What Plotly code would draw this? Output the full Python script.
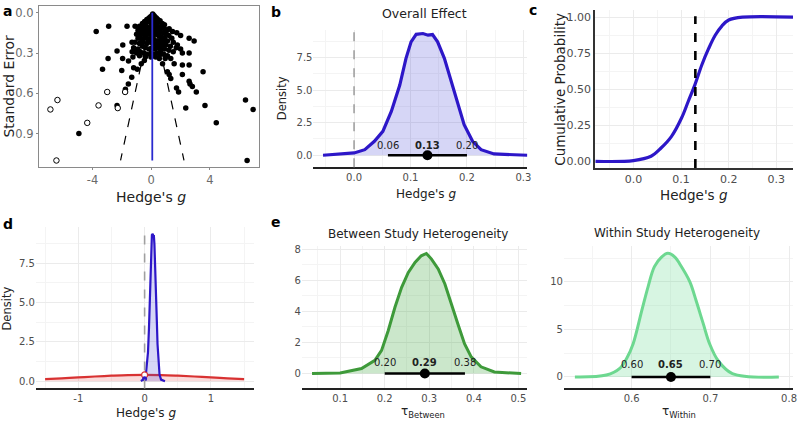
import plotly.graph_objects as go

W, H = 800, 422
FONT = "DejaVu Sans"

# ---------------- data ----------------
# (a) funnel plot: observed effects (filled) and imputed effects (hollow)
obs_g = [0.10, 0.05, 0.18, -0.05, 0.25, 0.12, -0.15, 0.35, 0.0, 0.2, -0.3, 0.45, -0.1, 0.3, 0.6,
         -0.45, 0.1, -0.25, 0.5, 0.75, -0.6, 0.0, 0.35, -0.4, 0.9,
         -0.8, -0.6, -0.4, -0.2, 0.05, 0.25, 0.45, 0.65, 0.9, 1.1,
         -0.9, -0.7, -0.5, -0.3, -0.1, 0.15, 0.4, 0.6, 0.8, 1.0, 1.2,
         -1.0, -0.75, -0.55, -0.35, -0.15, 0.1, 0.3, 0.5, 0.7, 0.9, 1.4,
         -0.9, -0.65, -0.45, -0.2, 0.0, 0.2, 0.45, 0.65, 0.85, 1.1, 1.5,
         -1.1, -0.8, -0.55, -0.3, -0.05, 0.15, 0.35, 0.55, 0.75, 1.0, 1.3, 1.7,
         -1.2, -0.9, -0.6, -0.4, -0.15, 0.05, 0.25, 0.45, 0.65, 0.9, 1.2, 1.5,
         -1.3, -1.0, -0.75, -0.5, -0.3, 0.0, 0.2, 0.4, 0.6, 0.85, 1.1,
         -0.8, -0.4, 0.3, 0.55, 0.95, -1.25,
         1.22, 1.45, 1.74, 2.0, 2.58, 2.92, 1.78, 2.0, 2.12, 2.58, 1.33, 0.77, 1.56, 2.12, 2.58,
         3.53, 1.1, 1.22, 1.33, 2.12, 2.58, 2.64, 2.8, 1.72, 1.86, 3.07, 2.35, 3.66, 4.43,
         6.42, 6.94, 6.53,
         -3.75, -2.9, -1.65, -1.1, -1.94, -2.33, -2.94, -1.95, -1.55, -3.32, -2.01, -1.2,
         -1.33, -1.56, -1.76, -0.95, -0.68, -0.47, -0.02, -1.31, -1.15, -2.33, -4.93]
obs_se = [0.01, 0.02, 0.02, 0.03, 0.03, 0.035, 0.04, 0.04, 0.045, 0.05, 0.05, 0.05, 0.06, 0.06, 0.06,
          0.065, 0.07, 0.07, 0.07, 0.08, 0.08, 0.08, 0.085, 0.09, 0.09,
          0.10, 0.11, 0.10, 0.11, 0.10, 0.11, 0.10, 0.11, 0.12, 0.13,
          0.13, 0.14, 0.13, 0.14, 0.13, 0.14, 0.13, 0.14, 0.15, 0.16, 0.17,
          0.16, 0.17, 0.16, 0.17, 0.16, 0.17, 0.16, 0.17, 0.18, 0.19, 0.19,
          0.19, 0.20, 0.19, 0.20, 0.19, 0.20, 0.21, 0.20, 0.22, 0.21, 0.22,
          0.22, 0.23, 0.22, 0.23, 0.22, 0.23, 0.24, 0.23, 0.25, 0.24, 0.25, 0.26,
          0.26, 0.27, 0.25, 0.26, 0.27, 0.26, 0.27, 0.26, 0.28, 0.27, 0.28, 0.29,
          0.29, 0.30, 0.29, 0.30, 0.31, 0.30, 0.31, 0.30, 0.31, 0.31, 0.32,
          0.32, 0.33, 0.33, 0.34, 0.34, 0.33,
          0.12, 0.14, 0.15, 0.17, 0.19, 0.21, 0.24, 0.27, 0.30, 0.30, 0.34, 0.38, 0.38, 0.39, 0.39,
          0.44, 0.44, 0.46, 0.49, 0.46, 0.51, 0.53, 0.55, 0.56, 0.59, 0.59, 0.71, 0.69, 0.82,
          0.65, 0.72, 1.10,
          0.14, 0.10, 0.10, 0.10, 0.24, 0.285, 0.34, 0.34, 0.36, 0.42, 0.43, 0.41,
          0.48, 0.53, 0.57, 0.42, 0.38, 0.355, 0.33, 0.22, 0.27, 0.69, 0.90]
imp_g = [-6.87, -6.39, -3.0, -3.59, -4.36, -6.46, -2.28, -1.78]
imp_se = [0.72, 0.65, 0.59, 0.69, 0.82, 1.10, 0.71, 0.59]
funnel_se = [0.0, 1.1]
funnel_left = [0.07, -2.09]
funnel_right = [0.07, 2.23]
adj_g = [0.07, 0.07]

# (b) posterior density of overall effect
mu_x = [-0.055, 0.0, 0.019, 0.036, 0.051, 0.066, 0.081, 0.092, 0.101, 0.11, 0.122, 0.131,
        0.139, 0.148, 0.16, 0.172, 0.184, 0.195, 0.21, 0.225, 0.248, 0.307]
mu_d = [0.0, 0.18, 0.43, 1.07, 1.84, 3.37, 5.4, 7.45, 8.72, 9.3, 9.36, 9.23,
        9.28, 8.72, 7.45, 5.66, 3.88, 2.35, 1.07, 0.43, 0.1, 0.0]
mu_ci = [0.06, 0.13, 0.20]

# (c) cumulative probability
cdf_x = [-0.08, 0.0, 0.037, 0.058, 0.08, 0.101, 0.115, 0.129, 0.1435, 0.158, 0.172, 0.186,
         0.2, 0.229, 0.335]
cdf_p = [0.0, 0.005, 0.035, 0.092, 0.173, 0.30, 0.415, 0.53, 0.668, 0.783, 0.876, 0.94,
         0.98, 1.0, 1.0]
cdf_mark = 0.13

# (d) prior vs posterior
prior_x = [-1.5, -1.25, -1.0, -0.75, -0.5, -0.25, 0.0, 0.25, 0.5, 0.75, 1.0, 1.25, 1.5]
prior_d = [0.13, 0.18, 0.24, 0.30, 0.35, 0.39, 0.40, 0.39, 0.35, 0.30, 0.24, 0.18, 0.13]
prior_at0 = 0.40
post_at0 = 0.15

# (e) heterogeneity
tb_x = [0.037, 0.1, 0.148, 0.178, 0.193, 0.208, 0.223, 0.238, 0.253, 0.268, 0.282, 0.2935,
        0.305, 0.32, 0.335, 0.349, 0.364, 0.379, 0.394, 0.416, 0.446, 0.506]
tb_d = [0.0, 0.04, 0.32, 0.85, 1.49, 2.77, 4.26, 5.54, 6.5, 7.14, 7.57, 7.72,
        7.36, 6.72, 5.76, 4.48, 3.2, 1.92, 1.07, 0.43, 0.1, 0.0]
tb_ci = [0.20, 0.29, 0.38]
tw_x = [0.528, 0.568, 0.585, 0.594, 0.602, 0.613, 0.621, 0.629, 0.638, 0.646, 0.655, 0.661,
        0.674, 0.682, 0.691, 0.699, 0.71, 0.728, 0.787]
tw_d = [0.0, 0.2, 0.9, 2.0, 3.5, 7.0, 9.5, 11.6, 12.6, 13.0, 12.6, 11.9,
        10.0, 8.0, 5.6, 3.5, 1.7, 0.35, 0.0]
tw_ci = [0.60, 0.65, 0.70]

BLUE = "#2D17C8"
BLUE_FILL = "rgba(70,70,215,0.22)"
RED = "#D83232"
RED_FILL = "rgba(230,90,90,0.22)"
GREEN = "#3E9A3A"
GREEN_FILL = "rgba(70,170,70,0.28)"
LGREEN = "#6DD890"
LGREEN_FILL = "rgba(110,220,150,0.28)"
GRID = "#EBEBEB"
MINOR = "#F4F4F4"
TICKC = "#4D4D4D"


def xd(a, b):
    return [a / W, b / W]


def yd(bottom, top):
    return [1 - bottom / H, 1 - top / H]


fig = go.Figure()

# ---- (a) ----
fig.add_trace(go.Scatter(x=funnel_left, y=funnel_se, mode="lines", xaxis="x", yaxis="y",
                         line=dict(color="black", width=1.2, dash="dash"), showlegend=False))
fig.add_trace(go.Scatter(x=funnel_right, y=funnel_se, mode="lines", xaxis="x", yaxis="y",
                         line=dict(color="black", width=1.2, dash="dash"), showlegend=False))
fig.add_trace(go.Scatter(x=obs_g, y=obs_se, mode="markers", xaxis="x", yaxis="y",
                         marker=dict(color="black", size=5.5), showlegend=False))
fig.add_trace(go.Scatter(x=imp_g, y=imp_se, mode="markers", xaxis="x", yaxis="y",
                         marker=dict(color="white", size=5.5, line=dict(color="black", width=1)),
                         showlegend=False))
fig.add_trace(go.Scatter(x=adj_g, y=funnel_se, mode="lines", xaxis="x", yaxis="y",
                         line=dict(color="#2A2ACF", width=1.8), showlegend=False))

# ---- (b) ----
fig.add_trace(go.Scatter(x=mu_x, y=mu_d, mode="lines", xaxis="x2", yaxis="y2", fill="tozeroy",
                         fillcolor=BLUE_FILL, line=dict(color=BLUE, width=3.2), showlegend=False))
# ---- (c) ----
fig.add_trace(go.Scatter(x=cdf_x, y=cdf_p, mode="lines", xaxis="x3", yaxis="y3",
                         line=dict(color=BLUE, width=3.2, shape="spline"), showlegend=False))
# ---- (d) ----
fig.add_trace(go.Scatter(x=prior_x, y=prior_d, mode="lines", xaxis="x4", yaxis="y4", fill="tozeroy",
                         fillcolor=RED_FILL, line=dict(color=RED, width=2.2, shape="spline"),
                         showlegend=False))
fig.add_trace(go.Scatter(x=mu_x, y=mu_d, mode="lines", xaxis="x4", yaxis="y4", fill="tozeroy",
                         fillcolor=BLUE_FILL, line=dict(color=BLUE, width=2.2), showlegend=False))
fig.add_trace(go.Scatter(x=[0], y=[prior_at0], mode="markers", xaxis="x4", yaxis="y4",
                         marker=dict(color="white", size=6, line=dict(color=RED, width=1.2)),
                         showlegend=False))
fig.add_trace(go.Scatter(x=[0], y=[post_at0], mode="markers", xaxis="x4", yaxis="y4",
                         marker=dict(color=BLUE, size=5), showlegend=False))
# ---- (e) ----
fig.add_trace(go.Scatter(x=tb_x, y=tb_d, mode="lines", xaxis="x5", yaxis="y5", fill="tozeroy",
                         fillcolor=GREEN_FILL, line=dict(color=GREEN, width=3), showlegend=False))
fig.add_trace(go.Scatter(x=tw_x, y=tw_d, mode="lines", xaxis="x6", yaxis="y6", fill="tozeroy",
                         fillcolor=LGREEN_FILL, line=dict(color=LGREEN, width=3, shape="spline"),
                         showlegend=False))

annotations = []
# intervals
for ax, ci, ty in [("2", mu_ci, 0.72), ("5", tb_ci, 0.68), ("6", tw_ci, 1.3)]:
    fig.add_trace(go.Scatter(x=[ci[0], ci[2]], y=[0, 0], mode="lines", xaxis="x" + ax, yaxis="y" + ax,
                             line=dict(color="black", width=2.4), showlegend=False))
    fig.add_trace(go.Scatter(x=[ci[1]], y=[0], mode="markers", xaxis="x" + ax, yaxis="y" + ax,
                             marker=dict(color="black", size=10), showlegend=False))
    for i, v in enumerate(ci):
        txt = f"{v:.2f}"
        if i == 1:
            txt = f"<b>{txt}</b>"
        annotations.append(dict(x=v, y=ty, xref="x" + ax, yref="y" + ax, text=txt, showarrow=False,
                                yanchor="middle", font=dict(family=FONT, size=10, color="#222")))


def grid_axis(**kw):
    base = dict(showgrid=True, gridcolor=GRID, gridwidth=1, zeroline=False,
                tickfont=dict(family=FONT, size=10, color=TICKC), ticks="", fixedrange=True)
    base.update(kw)
    return base


layout = dict(
    width=W, height=H, margin=dict(l=0, r=0, t=0, b=0), paper_bgcolor="white", plot_bgcolor="white",
    font=dict(family=FONT),
    xaxis=dict(domain=xd(39, 260), range=[-7.66, 7.32], tickvals=[-4, 0, 4], ticktext=["-4", "0", "4"],
               showline=True, mirror=True, linecolor="#8A8A8A", linewidth=1, showgrid=False,
               zeroline=False, ticks="outside", ticklen=2, tickcolor="#8A8A8A",
               tickfont=dict(family=FONT, size=11.5, color="#6A6A6A"), anchor="y"),
    yaxis=dict(domain=yd(166, 4), range=[1.15, -0.05], tickvals=[0, 0.3, 0.6, 0.9],
               ticktext=["0.0", "0.3", "0.6", "0.9"], showline=True, mirror=True, linecolor="#8A8A8A",
               linewidth=1, showgrid=False, zeroline=False, ticks="outside", ticklen=2,
               tickcolor="#8A8A8A", tickfont=dict(family=FONT, size=11.5, color="#6A6A6A"), anchor="x"),
    xaxis2=grid_axis(domain=xd(315, 530), range=[-0.072, 0.307], tickvals=[0, 0.1, 0.2, 0.3],
                     ticktext=["0.0", "0.1", "0.2", "0.3"], showline=True, linecolor="#222", linewidth=1.6,
                     minor=dict(showgrid=True, gridcolor=MINOR, dtick=0.05, tick0=0), anchor="y2"),
    yaxis2=grid_axis(domain=yd(166, 28), range=[-0.92, 9.64], tickvals=[0, 2.5, 5, 7.5],
                     ticktext=["0.0", "2.5", "5.0", "7.5"],
                     minor=dict(showgrid=True, gridcolor=MINOR, dtick=1.25, tick0=0), anchor="x2"),
    xaxis3=grid_axis(domain=xd(598.3, 797), range=[-0.08, 0.335], tickvals=[0, 0.1, 0.2, 0.3],
                     ticktext=["0.0", "0.1", "0.2", "0.3"], showline=True, linecolor="#333", linewidth=2,
                     minor=dict(showgrid=True, gridcolor=MINOR, dtick=0.05, tick0=0),
                     tickfont=dict(family=FONT, size=11, color=TICKC), anchor="y3"),
    yaxis3=grid_axis(domain=yd(166.7, 8), range=[-0.046, 1.05], tickvals=[0, 0.25, 0.5, 0.75, 1.0],
                     ticktext=["0.00", "0.25", "0.50", "0.75", "1.00"], showline=True, linecolor="#333",
                     linewidth=2, minor=dict(showgrid=True, gridcolor=MINOR, dtick=0.125, tick0=0),
                     tickfont=dict(family=FONT, size=11, color=TICKC), anchor="x3"),
    xaxis4=grid_axis(domain=xd(36, 255), range=[-1.64, 1.645], tickvals=[-1, 0, 1],
                     ticktext=["-1", "0", "1"], showline=True, linecolor="#222", linewidth=1.6,
                     minor=dict(showgrid=True, gridcolor=MINOR, dtick=0.5, tick0=0), anchor="y4"),
    yaxis4=grid_axis(domain=yd(388.3, 226), range=[-0.46, 9.8], tickvals=[0, 2.5, 5, 7.5],
                     ticktext=["0.0", "2.5", "5.0", "7.5"],
                     minor=dict(showgrid=True, gridcolor=MINOR, dtick=1.25, tick0=0), anchor="x4"),
    xaxis5=grid_axis(domain=xd(303.3, 530), range=[0.014, 0.52], tickvals=[0.1, 0.2, 0.3, 0.4, 0.5],
                     ticktext=["0.1", "0.2", "0.3", "0.4", "0.5"], showline=True, linecolor="#222",
                     linewidth=1.6, minor=dict(showgrid=True, gridcolor=MINOR, dtick=0.05, tick0=0),
                     anchor="y5"),
    yaxis5=grid_axis(domain=yd(388.3, 245), range=[-0.96, 8.21], tickvals=[0, 2, 4, 6, 8],
                     minor=dict(showgrid=True, gridcolor=MINOR, dtick=1, tick0=0), anchor="x5"),
    xaxis6=grid_axis(domain=xd(566.7, 797), range=[0.514, 0.805], tickvals=[0.6, 0.7, 0.8],
                     ticktext=["0.6", "0.7", "0.8"], showline=True, linecolor="#222", linewidth=1.6,
                     minor=dict(showgrid=True, gridcolor=MINOR, dtick=0.05, tick0=0), anchor="y6"),
    yaxis6=grid_axis(domain=yd(388.3, 245), range=[-1.21, 13.78], tickvals=[0, 5, 10],
                     minor=dict(showgrid=True, gridcolor=MINOR, dtick=2.5, tick0=0), anchor="x6"),
)

shapes = [
    dict(type="line", xref="x2", yref="y2 domain", x0=0, x1=0, y0=0, y1=1,
         line=dict(color="#A0A0A0", width=1.6, dash="dash")),
    dict(type="line", xref="x3", yref="y3 domain", x0=cdf_mark, x1=cdf_mark, y0=0, y1=0.96,
         line=dict(color="black", width=2.6, dash="dash")),
    dict(type="line", xref="x4", yref="y4 domain", x0=0, x1=0, y0=0, y1=1,
         line=dict(color="#A0A0A0", width=1.6, dash="dash")),
]


def pa(px, py, text, size, bold=False, angle=0, color="black", xanchor="center"):
    annotations.append(dict(x=px / W, y=1 - py / H, xref="paper", yref="paper",
                            text=f"<b>{text}</b>" if bold else text, showarrow=False, textangle=angle,
                            xanchor=xanchor, yanchor="middle",
                            font=dict(family=FONT, size=size, color=color)))


# panel letters
pa(8, 9, "a", 14, bold=True)
pa(277, 10, "b", 14, bold=True)
pa(536, 8, "c", 14, bold=True)
pa(8, 223, "d", 14, bold=True)
pa(277, 221, "e", 14, bold=True)
# titles
pa(427, 12, "Overall Effect", 12.5, color="#222")
pa(420, 233, "Between Study Heterogeneity", 12, color="#222")
pa(680, 232, "Within Study Heterogeneity", 12, color="#222")
# axis titles
pa(9, 84, "Standard Error", 14, angle=-90, color="#222")
pa(152, 196, "Hedge's <i>g</i>", 14, color="#222")
pa(283, 97, "Density", 11.5, angle=-90, color="#222")
pa(428, 193, "Hedge's <i>g</i>", 12, color="#222")
pa(562, 88, "Cumulative Probability", 13.5, angle=-90, color="#222")
pa(697, 194, "Hedge's <i>g</i>", 13.5, color="#222")
pa(7, 308, "Density", 11.5, angle=-90, color="#222")
pa(147, 413, "Hedge's <i>g</i>", 12, color="#222")
pa(425, 412, "τ<sub>Between</sub>", 12, color="#222")
pa(682, 412, "τ<sub>Within</sub>", 12, color="#222")

layout["shapes"] = shapes
layout["annotations"] = annotations
fig.update_layout(**layout)
fig.write_html("out.html", config={"displayModeBar": False},
               post_script="document.body.style.margin='0';document.body.style.padding='0';"
                           "document.body.style.overflow='hidden';")
